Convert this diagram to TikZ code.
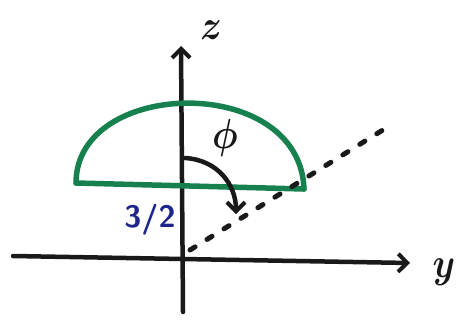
\documentclass[tikz,border=0pt]{standalone}
\usepackage{amsmath}
\usepackage{graphicx}
\usepackage{tikz}
\usetikzlibrary{arrows.meta, calc}

\definecolor{domegreen}{RGB}{22,128,78}
\definecolor{inkblue}{RGB}{30,38,140}

\newcommand{\bigsym}[1]{\scalebox{3.6}[4.2]{$\boldsymbol{#1}$}}

\begin{document}
\begin{tikzpicture}[
x=1pt, y=-1pt,
>={Straight Barb[length=9pt, width=18pt, line width=4pt]},
axis/.style={->, line width=4.5pt, line cap=round, black!90},
dome/.style={line width=5.5pt, line cap=round, domegreen},
ray/.style={line width=5pt, line cap=round, dash pattern=on 6pt off 14pt, black!90},
anglearrow/.style={->, line width=4.5pt, line cap=round, black!90},
axislabel/.style={inner sep=0pt, black!90}
]
\useasboundingbox (0,0) rectangle (458,325);

% axes
\coordinate (zbottom) at (183,312);
\coordinate (ztip) at (181,46);
\coordinate (yleft) at (13,256);
\coordinate (ytip) at (410,263);
\coordinate (origin) at (190,250);

\draw[axis] (zbottom) -- (ztip);
\draw[axis] (yleft) -- (ytip);

\node[axislabel] (zlabel) at (211,30) {\bigsym{z}};
\node[axislabel] (ylabel) at (444,272) {\bigsym{y}};

% spherical cap
\coordinate (capleft) at (76,183);
\coordinate (capright) at (304,189);
\draw[dome] (capleft) .. controls (76,78) and (300,73) .. (capright);
\draw[dome] (capleft) -- (capright);

% ray from origin
\coordinate (rayend) at (386,128);
\draw[ray] (origin) -- (rayend);

% angle phi
\coordinate (phistart) at (185,158);
\coordinate (phiend) at (236,214);
\draw[anglearrow] (phistart) .. controls (218,160) and (236,185) .. (phiend);
\node[axislabel] (philabel) at (225,138) {\bigsym{\phi}};

% height of cap base
\node[font=\fontsize{31}{31}\selectfont\bfseries\sffamily, inkblue, inner sep=0pt] (height) at (150,220) {3/2};

\end{tikzpicture}
\end{document}
